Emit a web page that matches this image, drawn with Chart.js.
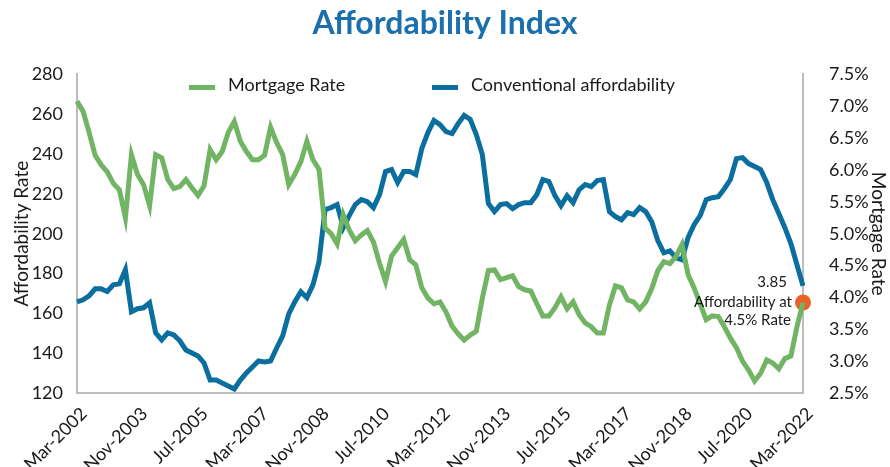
<!DOCTYPE html>
<html>
<head>
<meta charset="utf-8">
<script src="https://cdn.jsdelivr.net/npm/chart.js@4.4.1/dist/chart.umd.min.js"></script>
<style>
  html, body { margin: 0; padding: 0; background: #fff; }
  #wrap { width: 890px; height: 467px; }
</style>
</head>
<body>
<div id="wrap"><canvas id="chart" width="890" height="467"></canvas></div>
<script>
// Подписи оси X (каждые 20 месяцев)
const tickLabels = [
  'Mar-2002', 'Nov-2003', 'Jul-2005', 'Mar-2007', 'Nov-2008', 'Jul-2010', 'Mar-2012',
  'Nov-2013', 'Jul-2015', 'Mar-2017', 'Nov-2018', 'Jul-2020', 'Mar-2022',
];
const monthNames = ['Jan', 'Feb', 'Mar', 'Apr', 'May', 'Jun', 'Jul', 'Aug', 'Sep', 'Oct', 'Nov', 'Dec'];

// Категории: каждые два месяца, Mar-2002 .. Mar-2022
const categories = [];
for (let i = 0; i <= 240; i += 2) {
  categories.push(monthNames[(2 + i) % 12] + '-' + (2002 + Math.floor((2 + i) / 12)));
}

// Ставка по ипотеке, % (правая ось)
const mortgageRate = [
  7.08, 6.92, 6.59, 6.23, 6.08, 5.97, 5.79, 5.69, 5.25, 6.24,
  5.93, 5.77, 5.44, 6.24, 6.19, 5.85, 5.71, 5.74, 5.85, 5.72,
  5.60, 5.75, 6.32, 6.16, 6.29, 6.59, 6.76, 6.45, 6.29, 6.16,
  6.16, 6.23, 6.67, 6.43, 6.24, 5.77, 5.93, 6.13, 6.45, 6.16,
  6.01, 5.09, 5.00, 4.84, 5.30, 5.06, 4.89, 4.98, 5.05, 4.87,
  4.54, 4.25, 4.65, 4.78, 4.91, 4.59, 4.51, 4.15, 3.99, 3.90,
  3.93, 3.77, 3.55, 3.43, 3.33, 3.41, 3.47, 3.99, 4.42, 4.43,
  4.28, 4.31, 4.34, 4.17, 4.12, 4.10, 3.90, 3.71, 3.71, 3.84,
  4.01, 3.82, 3.93, 3.73, 3.60, 3.54, 3.44, 3.44, 3.88, 4.18,
  4.15, 3.96, 3.93, 3.82, 3.93, 4.14, 4.42, 4.56, 4.53, 4.64,
  4.83, 4.36, 4.15, 3.90, 3.65, 3.71, 3.70, 3.54, 3.36, 3.21,
  3.00, 2.86, 2.69, 2.81, 3.02, 2.97, 2.88, 3.04, 3.08, 3.54,
  3.92,
];

// Индекс доступности (левая ось)
const affordability = [
  165.8, 166.8, 168.8, 172.3, 172.3, 171.0, 174.3, 174.8, 181.9, 160.8,
  162.3, 162.8, 165.3, 150.2, 146.7, 150.2, 149.2, 146.2, 141.6, 140.1,
  138.6, 135.1, 126.5, 126.5, 125.0, 123.5, 122.0, 126.5, 130.1, 133.1,
  136.1, 135.6, 136.1, 142.6, 148.7, 159.7, 165.8, 170.8, 167.8, 174.3,
  185.9, 212.1, 213.1, 214.6, 203.0, 209.1, 214.6, 217.1, 216.1, 213.1,
  219.6, 231.2, 232.2, 225.7, 231.2, 231.2, 229.7, 242.8, 250.8, 256.9,
  254.8, 251.3, 250.3, 255.3, 259.4, 257.4, 249.8, 239.7, 215.1, 211.1,
  214.6, 215.1, 212.6, 214.6, 215.6, 215.6, 219.6, 227.2, 226.2, 219.1,
  214.1, 219.1, 215.6, 222.1, 224.7, 223.6, 226.7, 227.2, 211.1, 208.6,
  207.0, 210.6, 209.6, 213.1, 211.1, 206.0, 196.5, 190.4, 191.4, 187.9,
  186.9, 198.0, 204.5, 209.1, 217.1, 218.1, 218.6, 222.6, 227.2, 237.7,
  238.2, 235.2, 233.7, 232.2, 225.7, 217.1, 210.1, 203.0, 195.0, 184.4,
  173.8,
];

// Точка-выноска в конце ряда ставки
const noteValue = 3.92;
const noteLines = ['3.85', 'Affordability at', '4.5% Rate'];

const GREEN = '#70b464';
const BLUE = '#0a6f9e';
const ORANGE = '#e8622a';
const AXIS = '#bdbdbd';

Chart.defaults.font.family = 'Lato, "Open Sans", sans-serif';
Chart.defaults.color = '#1a1a1a';

// Легенда и подпись рисуем сами
const legendAndNote = {
  id: 'legendAndNote',
  afterDraw(chart) {
    const { ctx, chartArea: { right } } = chart;
    ctx.save();
    ctx.font = '18px Lato, "Open Sans", sans-serif';
    ctx.fillStyle = '#1a1a1a';
    ctx.textBaseline = 'middle';
    const items = [
      { x: 189, color: GREEN, text: chart.data.datasets[0].label },
      { x: 432, color: BLUE, text: chart.data.datasets[1].label },
    ];
    items.forEach((it) => {
      ctx.fillStyle = it.color;
      ctx.fillRect(it.x, 85, 26, 5);
      ctx.fillStyle = '#1a1a1a';
      ctx.fillText(it.text, it.x + 39, 85);
    });

    ctx.font = '15px Lato, "Open Sans", sans-serif';
    ctx.textAlign = 'right';
    ctx.fillText(noteLines[0], right - 16, 282);
    ctx.fillText(noteLines[1], right - 11, 302);
    ctx.fillText(noteLines[2], right - 12, 320);
    ctx.restore();
  },
};

const noteData = mortgageRate.map((v, i) => (i === mortgageRate.length - 1 ? noteValue : null));

new Chart(document.getElementById('chart'), {
  type: 'line',
  data: {
    labels: categories,
    datasets: [
      {
        label: 'Mortgage Rate',
        data: mortgageRate,
        yAxisID: 'y1',
        borderColor: GREEN,
        backgroundColor: GREEN,
        borderWidth: 5,
        pointRadius: 0,
        tension: 0,
      },
      {
        label: 'Conventional affordability',
        data: affordability,
        yAxisID: 'y',
        borderColor: BLUE,
        backgroundColor: BLUE,
        borderWidth: 5,
        pointRadius: 0,
        tension: 0,
      },
      {
        label: 'note',
        data: noteData,
        yAxisID: 'y1',
        showLine: false,
        pointRadius: 8,
        pointBackgroundColor: ORANGE,
        pointBorderWidth: 0,
      },
    ],
  },
  options: {
    responsive: false,
    devicePixelRatio: 1,
    animation: false,
    layout: { padding: 0 },
    plugins: {
      legend: { display: false },
      tooltip: { enabled: false },
      title: {
        display: true,
        text: 'Affordability Index',
        color: '#1b6fad',
        font: { size: 32, weight: 'bold' },
        padding: { top: 4, bottom: 32 },
      },
    },
    scales: {
      x: {
        type: 'category',
        grid: { display: false },
        border: { color: AXIS, width: 2 },
        ticks: {
          autoSkip: false,
          maxRotation: 45,
          minRotation: 45,
          padding: 2,
          labelOffset: 7,
          color: '#1a1a1a',
          font: { size: 18 },
          callback: function (value, index) {
            const lab = categories[index];
            return tickLabels.includes(lab) ? lab : '';
          },
        },
        afterFit: (s) => { s.height = 74; },
      },
      y: {
        position: 'left',
        min: 120,
        max: 280,
        grid: { display: false },
        border: { color: AXIS, width: 2 },
        ticks: { stepSize: 20, padding: 6, color: '#1a1a1a', font: { size: 18 } },
        title: {
          display: true,
          text: 'Affordability Rate',
          color: '#1a1a1a',
          font: { size: 19 },
          padding: { top: 10, bottom: 0 },
        },
        afterFit: (s) => { s.width = 77; },
      },
      y1: {
        position: 'right',
        min: 2.5,
        max: 7.5,
        grid: { display: false },
        border: { color: AXIS, width: 2 },
        ticks: {
          stepSize: 0.5,
          padding: 18,
          color: '#1a1a1a',
          font: { size: 18 },
          callback: (v) => v.toFixed(1) + '%',
        },
        title: {
          display: true,
          text: 'Mortgage Rate',
          color: '#1a1a1a',
          font: { size: 19 },
          padding: { top: 0, bottom: 0 },
        },
        afterFit: (s) => { s.width = 87; },
      },
    },
  },
  plugins: [legendAndNote],
});
</script>
</body>
</html>
